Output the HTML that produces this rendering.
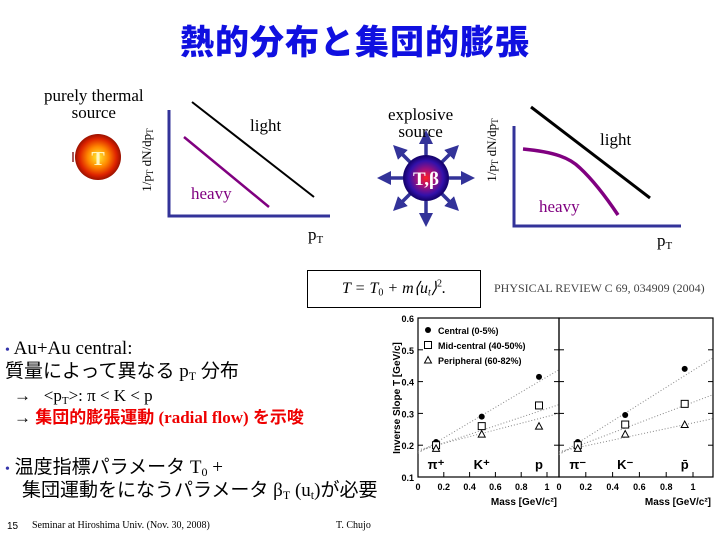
<!DOCTYPE html>
<html><head><meta charset="utf-8"><style>
body{margin:0;background:#fff;}
#root{position:relative;width:720px;height:540px;overflow:hidden;font-family:"Liberation Serif","Noto Serif CJK SC",serif;}
.t{position:absolute;white-space:nowrap;line-height:24px;}
.t sub{line-height:0;vertical-align:-0.25em;}
.jp{font-family:"Liberation Serif","Noto Sans CJK JP",sans-serif;}
</style></head><body>
<div id="root">
<div class="t" style="left:180px;top:20px;line-height:40px;font-family:'Noto Sans CJK JP',sans-serif;font-weight:900;font-size:34px;color:#1010e0;letter-spacing:1px;">熱的分布と集団的膨張</div>

<svg width="720" height="540" style="position:absolute;left:0;top:0">
<defs>
<radialGradient id="hot" cx="50%" cy="50%" r="50%"><stop offset="0" stop-color="#ffee33"/><stop offset="0.45" stop-color="#ff8800"/><stop offset="0.8" stop-color="#dd2200"/><stop offset="1" stop-color="#991100"/></radialGradient>
<radialGradient id="exp" cx="50%" cy="50%" r="50%"><stop offset="0" stop-color="#ff2222"/><stop offset="0.35" stop-color="#aa1177"/><stop offset="0.75" stop-color="#3311aa"/><stop offset="1" stop-color="#110066"/></radialGradient>
<marker id="ah" markerWidth="4" markerHeight="4" refX="2" refY="2" orient="auto"><path d="M0,0 L4,2 L0,4 z" fill="#333399"/></marker>
</defs>
<g>
<line x1="73" y1="152" x2="73" y2="162" stroke="#882222" stroke-width="1.5"/>
<circle cx="98" cy="157" r="23" fill="url(#hot)"/>
<text x="98" y="165" fill="#fff6c0" font-size="20" font-weight="bold" text-anchor="middle" font-family="Liberation Serif">T</text>
</g>
<g>
<polyline points="169,110 169,216 330,216" fill="none" stroke="#333399" stroke-width="3"/>
<line x1="192" y1="102" x2="314" y2="197" stroke="#000" stroke-width="2"/>
<line x1="184" y1="137" x2="269" y2="207" stroke="#800080" stroke-width="2.5"/>
<text x="250" y="131" font-size="17" font-family="Liberation Serif">light</text>
<text x="191" y="199" font-size="17" fill="#800080" font-family="Liberation Serif">heavy</text>
<text x="308" y="240" font-size="17" font-family="Liberation Serif">p<tspan font-size="11" dy="3">T</tspan></text>
<text transform="translate(151,160) rotate(-90)" font-size="13" text-anchor="middle" font-family="Liberation Serif">1/p<tspan font-size="9" dy="2">T</tspan><tspan dy="-2"> dN/dp</tspan><tspan font-size="9" dy="2">T</tspan></text>
</g>
<g stroke="#333399" stroke-width="3.5" marker-end="url(#ah)">
<line x1="426" y1="155" x2="426" y2="137"/><line x1="426" y1="201" x2="426" y2="220"/>
<line x1="403" y1="178" x2="384" y2="178"/><line x1="449" y1="178" x2="468" y2="178"/>
<line x1="410" y1="162" x2="398" y2="150"/><line x1="442" y1="162" x2="454" y2="150"/>
<line x1="410" y1="194" x2="398" y2="206"/><line x1="442" y1="194" x2="454" y2="206"/>
</g>
<circle cx="426" cy="178" r="23" fill="url(#exp)"/>
<text x="426" y="185" fill="#fff" font-size="19" font-weight="bold" text-anchor="middle" font-family="Liberation Serif">T,β</text>
<g>
<polyline points="514,126 514,226 681,226" fill="none" stroke="#333399" stroke-width="3"/>
<line x1="531" y1="107" x2="650" y2="198" stroke="#000" stroke-width="3"/>
<path d="M523,149 C555,152 570,158 580,168 C595,182 608,200 618,215" fill="none" stroke="#800080" stroke-width="3.5"/>
<text x="600" y="145" font-size="17" font-family="Liberation Serif">light</text>
<text x="539" y="212" font-size="17" fill="#800080" font-family="Liberation Serif">heavy</text>
<text x="657" y="246" font-size="17" font-family="Liberation Serif">p<tspan font-size="11" dy="3">T</tspan></text>
<text transform="translate(496,150) rotate(-90)" font-size="13" text-anchor="middle" font-family="Liberation Serif">1/p<tspan font-size="9" dy="2">T</tspan><tspan dy="-2"> dN/dp</tspan><tspan font-size="9" dy="2">T</tspan></text>
</g>
</svg>
<div class="t" style="left:44px;top:87px;font-size:17px;line-height:17px;text-align:center;">purely thermal<br>source</div>
<div class="t" style="left:388px;top:106px;font-size:17px;line-height:17px;text-align:center;">explosive<br>source</div>

<div class="t" style="left:307px;top:270px;width:172px;height:36px;border:1px solid #000;font-size:16px;line-height:36px;text-align:center;font-style:italic;">T = T<sub style="font-size:10px;font-style:normal">0</sub> + m⟨u<sub style="font-size:10px">t</sub>⟩<sup style="font-size:10px;font-style:normal;line-height:0">2</sup>.</div>
<div class="t" style="left:494px;top:276px;font-size:12px;color:#444;">PHYSICAL REVIEW C 69, 034909 (2004)</div>

<svg id="chart" width="720" height="540" style="position:absolute;left:0;top:0"></svg>

<div class="t jp" style="left:5px;top:337px;font-size:19px;"><span style="color:#3333aa;font-size:14px">•</span> Au+Au central:</div>
<div class="t jp" style="left:5px;top:360px;font-size:19px;">質量によって異なる p<sub style="font-size:12px">T</sub> 分布</div>
<div class="t jp" style="left:14px;top:384px;font-size:17px;">→&nbsp;&nbsp; &lt;p<sub style="font-size:11px">T</sub>&gt;: π &lt; K &lt; p</div>
<div class="t jp" style="left:14px;top:406px;font-size:17px;">→ <span style="color:#ee0000;font-weight:bold;">集団的膨張運動 (radial flow) を示唆</span></div>
<div class="t jp" style="left:5px;top:456px;font-size:19px;"><span style="color:#3333aa;font-size:14px">•</span> 温度指標パラメータ T<sub style="font-size:12px">0</sub> +</div>
<div class="t jp" style="left:22px;top:479px;font-size:19px;">集団運動をになうパラメータ β<sub style="font-size:12px">T</sub> (u<sub style="font-size:12px">t</sub>)が必要</div>
<div class="t" style="left:7px;top:515px;font-size:10px;font-family:'Liberation Sans',sans-serif;">15</div>
<div class="t" style="left:32px;top:514px;font-size:10px;">Seminar at Hiroshima Univ. (Nov. 30, 2008)</div>
<div class="t" style="left:336px;top:514px;font-size:10px;">T. Chujo</div>
</div>
<script>
const masses=[0.14,0.494,0.938];
const leftCentral=[0.21,0.29,0.415];
const leftMid=[0.20,0.26,0.325];
const leftPeriph=[0.19,0.235,0.26];
const rightCentral=[0.21,0.295,0.44];
const rightMid=[0.20,0.265,0.33];
const rightPeriph=[0.19,0.235,0.265];
const leftFitIntercept=[0.175,0.18,0.185];
const leftFitSlope=[0.24,0.135,0.105];
const rightFitIntercept=[0.17,0.175,0.18];
const rightFitSlope=[0.265,0.16,0.09];
const yTicks=[0.1,0.2,0.3,0.4,0.5,0.6];
const xTicks=[0,0.2,0.4,0.6,0.8,1];
const leftSpecies=["π⁺","K⁺","p"];
const rightSpecies=["π⁻","K⁻","p̄"];
const NS="http://www.w3.org/2000/svg";
const svg=document.getElementById('chart');
const top_=318,bot=477,ymin=0.1,ymax=0.6;
function Y(v){return bot-(v-ymin)/(ymax-ymin)*(bot-top_);}
function mk(tag,attrs,parent){const e=document.createElementNS(NS,tag);for(const k in attrs)e.setAttribute(k,attrs[k]);(parent||svg).appendChild(e);return e;}
const panels=[{x0:418,x1:547,edge:559,c:leftCentral,m:leftMid,p:leftPeriph,fi:leftFitIntercept,fs:leftFitSlope,sp:leftSpecies,name:'left'},
{x0:559,x1:693,edge:713,c:rightCentral,m:rightMid,p:rightPeriph,fi:rightFitIntercept,fs:rightFitSlope,sp:rightSpecies,name:'right'}];
const fnt='Liberation Sans';
const yl=mk('text',{transform:'translate(400,398) rotate(-90)','font-size':'10','font-weight':'bold','text-anchor':'middle','font-family':fnt});
yl.textContent='Inverse Slope T [GeV/c]';


yTicks.forEach(v=>{const t=mk('text',{x:414,y:Y(v)+4,'font-size':'9','font-weight':'bold','text-anchor':'end','font-family':fnt});t.textContent=v.toFixed(1);

});
panels.forEach(P=>{
 const X=m=>P.x0+m*(P.x1-P.x0);
 const g=mk('g',{});
 
 
 mk('rect',{x:P.x0,y:top_,width:P.edge-P.x0,height:bot-top_,fill:'none',stroke:'#000','stroke-width':1.2},g);
 yTicks.forEach(v=>{mk('line',{x1:P.x0,x2:P.x0+5,y1:Y(v),y2:Y(v),stroke:'#000'},g);mk('line',{x1:P.edge,x2:P.edge-5,y1:Y(v),y2:Y(v),stroke:'#000'},g);});
 xTicks.forEach(v=>{mk('line',{x1:X(v),x2:X(v),y1:bot,y2:bot-5,stroke:'#000'},g);
  const t=mk('text',{x:X(v),y:bot+13,'font-size':'9','font-weight':'bold','text-anchor':'middle','font-family':fnt},g);t.textContent=String(v);
  
  });
 const xt=mk('text',{x:P.edge-2,y:bot+28,'font-size':'10','font-weight':'bold','text-anchor':'end','font-family':fnt},g);xt.textContent='Mass [GeV/c²]';
 
 
 const mEdge=(P.edge-P.x0)/(P.x1-P.x0);
 P.fi.forEach((b,i)=>{const l=mk('line',{x1:P.x0,y1:Y(b),x2:P.edge,y2:Y(b+P.fs[i]*mEdge),stroke:'#888','stroke-width':1,'stroke-dasharray':'1,2'},g);
  
  });
 masses.forEach((m,i)=>{
  const c=mk('circle',{cx:X(m),cy:Y(P.c[i]),r:3,fill:'#000'},g);
  
  
  const s=mk('rect',{x:X(m)-3.5,y:Y(P.m[i])-3.5,width:7,height:7,fill:'#fff',stroke:'#000'},g);
  
  
  const yy=Y(P.p[i]);
  const tr=mk('path',{d:`M${X(m)-3.5},${yy+3} L${X(m)+3.5},${yy+3} L${X(m)},${yy-3.5}z`,fill:'#fff',stroke:'#000'},g);
  
  
  const sl=mk('text',{x:X(m),y:bot-8,'font-size':'13','font-weight':'bold','text-anchor':'middle','font-family':fnt},g);sl.textContent=P.sp[i];
  
  
 });
});
const lg=[['Central (0-5%)','c'],['Mid-central (40-50%)','s'],['Peripheral (60-82%)','t']];
lg.forEach((e,i)=>{const y=330+i*15,x=428;
 const g=mk('g',{});
 
 
 if(e[1]=='c')mk('circle',{cx:x,cy:y,r:3,fill:'#000'},g);
 else if(e[1]=='s')mk('rect',{x:x-3.5,y:y-3.5,width:7,height:7,fill:'#fff',stroke:'#000'},g);
 else mk('path',{d:`M${x-3.5},${y+3} L${x+3.5},${y+3} L${x},${y-3.5}z`,fill:'#fff',stroke:'#000'},g);
 const t=mk('text',{x:x+10,y:y+4,'font-size':'9','font-weight':'bold','font-family':fnt},g);t.textContent=e[0];});
</script>
</body></html>
